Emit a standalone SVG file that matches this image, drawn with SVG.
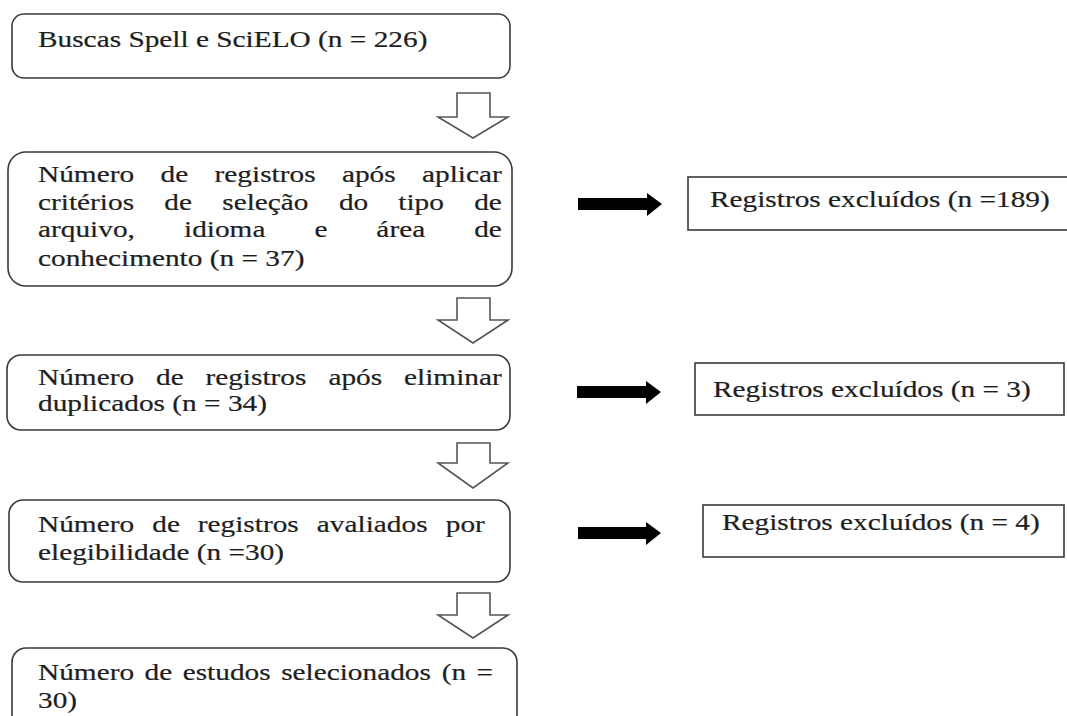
<svg xmlns="http://www.w3.org/2000/svg" width="1067" height="716" viewBox="0 0 1067 716">
<style>
.box{fill:#fff;stroke:#3a3a3a;stroke-width:1.6}
.rbox{fill:#fff;stroke:#3a3a3a;stroke-width:1.6}
.t{font-family:"Liberation Serif","Times New Roman",serif;font-size:23px;fill:#1e1e1e;stroke:#1e1e1e;stroke-width:0.2}
.hollow{fill:#fff;stroke:#555;stroke-width:1.6;stroke-linejoin:miter}
.solid{fill:#000}
</style>
<rect width="1067" height="716" fill="#fff"/>
<g id="n1">
<rect class="box" x="12" y="14" width="498" height="64" rx="12"/>
<text class="t" transform="translate(38,47) scale(1.275,1)">Buscas Spell e SciELO (n = 226)</text>
</g>
<g id="n2">
<rect class="box" x="8" y="152" width="504" height="134" rx="18"/>
<text class="t" transform="translate(38,182) scale(1.275,1)"><tspan x="0">Número</tspan><tspan x="96.1">de</tspan><tspan x="138.5">registros</tspan><tspan x="238.4">após</tspan><tspan x="301.2">aplicar</tspan></text>
<text class="t" transform="translate(38,210) scale(1.275,1)"><tspan x="0">critérios</tspan><tspan x="99.1">de</tspan><tspan x="144.5">seleção</tspan><tspan x="236.0">do</tspan><tspan x="282.6">tipo</tspan><tspan x="342.1">de</tspan></text>
<text class="t" transform="translate(38,237) scale(1.275,1)"><tspan x="0">arquivo,</tspan><tspan x="114.5">idioma</tspan><tspan x="216.9">e</tspan><tspan x="265.4">área</tspan><tspan x="342.1">de</tspan></text>
<text class="t" transform="translate(38,266) scale(1.275,1)">conhecimento (n = 37)</text>
</g>
<g id="n3">
<rect class="box" x="7" y="355" width="503" height="75" rx="14"/>
<text class="t" transform="translate(38,385) scale(1.275,1)"><tspan x="0">Número</tspan><tspan x="92.6">de</tspan><tspan x="131.3">registros</tspan><tspan x="227.8">após</tspan><tspan x="287.1">eliminar</tspan></text>
<text class="t" transform="translate(38,411) scale(1.275,1)">duplicados (n = 34)</text>
</g>
<g id="n4">
<rect class="box" x="9" y="500" width="501" height="82" rx="14"/>
<text class="t" transform="translate(38,532) scale(1.275,1)"><tspan x="0">Número</tspan><tspan x="89.6">de</tspan><tspan x="125.3">registros</tspan><tspan x="218.7">avaliados</tspan><tspan x="319.8">por</tspan></text>
<text class="t" transform="translate(38,560) scale(1.275,1)">elegibilidade (n =30)</text>
</g>
<g id="n5">
<rect class="box" x="12" y="648" width="505" height="90" rx="14"/>
<text class="t" transform="translate(38,680) scale(1.275,1)"><tspan x="0">Número</tspan><tspan x="83.6">de</tspan><tspan x="113.5">estudos</tspan><tspan x="190.7">selecionados</tspan><tspan x="316.7">(n</tspan><tspan x="343.9">=</tspan></text>
<text class="t" transform="translate(38,708) scale(1.275,1)">30)</text>
</g>
<g id="r1">
<rect class="rbox" x="688" y="177" width="400" height="53"/>
<text class="t" transform="translate(710,207) scale(1.275,1)">Registros excluídos (n =189)</text>
</g>
<g id="r2">
<rect class="rbox" x="695" y="363" width="369" height="52"/>
<text class="t" transform="translate(713,397) scale(1.275,1)">Registros excluídos (n = 3)</text>
</g>
<g id="r3">
<rect class="rbox" x="703" y="505" width="361" height="52"/>
<text class="t" transform="translate(722,530) scale(1.275,1)">Registros excluídos (n = 4)</text>
</g>
<g id="connectors">
<path class="hollow" d="M457,93 H490 V117 H508 L473,138 L438,117 H457 Z"/>
<path class="hollow" d="M457,298 H490 V320 H508 L473,343 L438,320 H457 Z"/>
<path class="hollow" d="M457,443 H490 V463 H508 L473,488 L438,463 H457 Z"/>
<path class="hollow" d="M457,593 H490 V615 H508 L473,638 L438,615 H457 Z"/>
<path class="solid" d="M578,198 H647 V193 L662,204 L647,216 V210 H578 Z"/>
<path class="solid" d="M577,386 H646 V381 L661,392 L646,404 V398 H577 Z"/>
<path class="solid" d="M578,527 H646 V522 L661,533 L646,545 V539 H578 Z"/>
</g>
</svg>
